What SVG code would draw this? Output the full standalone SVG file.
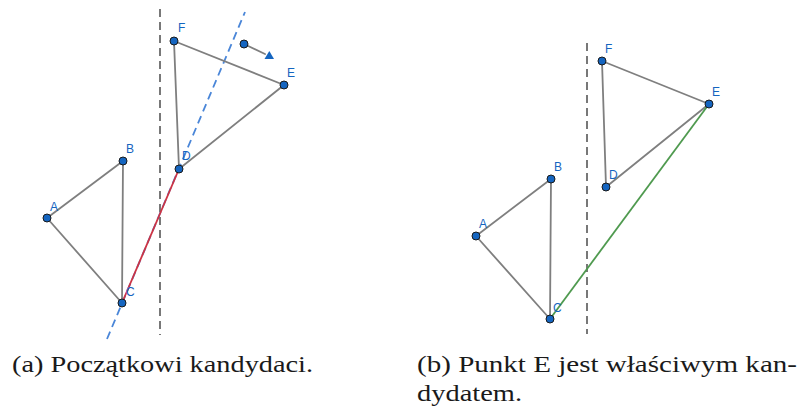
<svg xmlns="http://www.w3.org/2000/svg" width="801" height="407" viewBox="0 0 801 407">
<style>
.edge{stroke:#7f7f7f;stroke-width:1.8;fill:none;stroke-linecap:round}
.sep{stroke:#6a6a6a;stroke-width:1.8;stroke-dasharray:8 5;fill:none}
.ray{stroke:#4a86d8;stroke-width:1.8;stroke-dasharray:8 5;fill:none}
.pt{fill:#1565c0;stroke:#1a1a1a;stroke-width:1}
.lbl{font-family:"Liberation Sans",Arial,sans-serif;font-size:12px;fill:#1565c0}
.cap{font-family:"Liberation Serif","Times New Roman",serif;font-size:24px;fill:#1a1a1a}
</style>
<rect width="801" height="407" fill="#ffffff"/>
<g id="connectors">
  <!-- panel a -->
  <line class="sep" x1="160" y1="9" x2="160" y2="335"/>
  <line class="ray" x1="107" y1="339" x2="245" y2="12"/>
  <line class="edge" x1="47" y1="218" x2="123" y2="161"/>
  <line class="edge" x1="123" y1="161" x2="122" y2="303"/>
  <line class="edge" x1="47" y1="218" x2="122" y2="303"/>
  <line class="edge" x1="174" y1="41" x2="284" y2="85"/>
  <line class="edge" x1="174" y1="41" x2="179" y2="169"/>
  <line class="edge" x1="179" y1="169" x2="284" y2="85"/>
  <line x1="122" y1="303" x2="179" y2="169" stroke="#cc3344" stroke-width="1.8"/>
  <line class="edge" x1="244" y1="44" x2="265" y2="54"/>
  <polygon points="264.5,59 274,59 269.3,51" fill="#1565c0"/>
  <!-- panel b -->
  <line class="sep" x1="587" y1="43" x2="587" y2="334"/>
  <line class="edge" x1="476" y1="236" x2="551" y2="179"/>
  <line class="edge" x1="551" y1="179" x2="550" y2="319"/>
  <line class="edge" x1="476" y1="236" x2="550" y2="319"/>
  <line class="edge" x1="602" y1="61" x2="709" y2="104"/>
  <line class="edge" x1="602" y1="61" x2="606" y2="187"/>
  <line class="edge" x1="606" y1="187" x2="709" y2="104"/>
  <line x1="550" y1="319" x2="709" y2="104" stroke="#4f9a4f" stroke-width="1.8"/>
</g>
<g id="a-A"><circle class="pt" cx="47" cy="218" r="4"/><text class="lbl" x="50" y="211">A</text></g>
<g id="a-B"><circle class="pt" cx="123" cy="161" r="4"/><text class="lbl" x="126" y="153">B</text></g>
<g id="a-C"><circle class="pt" cx="122" cy="303" r="4"/><text class="lbl" x="126" y="296">C</text></g>
<g id="a-D"><circle class="pt" cx="179" cy="169" r="4"/><text class="lbl" x="182" y="160">D</text></g>
<g id="a-E"><circle class="pt" cx="284" cy="85" r="4"/><text class="lbl" x="287" y="77">E</text></g>
<g id="a-F"><circle class="pt" cx="174" cy="41" r="4"/><text class="lbl" x="178" y="32">F</text></g>
<g id="a-move"><circle class="pt" cx="244" cy="44" r="4"/></g>
<g id="b-A"><circle class="pt" cx="476" cy="236" r="4"/><text class="lbl" x="479" y="228">A</text></g>
<g id="b-B"><circle class="pt" cx="551" cy="179" r="4"/><text class="lbl" x="554" y="171">B</text></g>
<g id="b-C"><circle class="pt" cx="550" cy="319" r="4"/><text class="lbl" x="553" y="312">C</text></g>
<g id="b-D"><circle class="pt" cx="606" cy="187" r="4"/><text class="lbl" x="609" y="179">D</text></g>
<g id="b-E"><circle class="pt" cx="709" cy="104" r="4"/><text class="lbl" x="712" y="96">E</text></g>
<g id="b-F"><circle class="pt" cx="602" cy="61" r="4"/><text class="lbl" x="605" y="53">F</text></g>
<g id="captions">
  <text class="cap" x="12" y="372" textLength="301" lengthAdjust="spacingAndGlyphs">(a) Początkowi kandydaci.</text>
  <text class="cap" x="417" y="372" textLength="380" lengthAdjust="spacingAndGlyphs">(b) Punkt E jest właściwym kan-</text>
  <text class="cap" x="417" y="401" textLength="105" lengthAdjust="spacingAndGlyphs">dydatem.</text>
</g>
</svg>
